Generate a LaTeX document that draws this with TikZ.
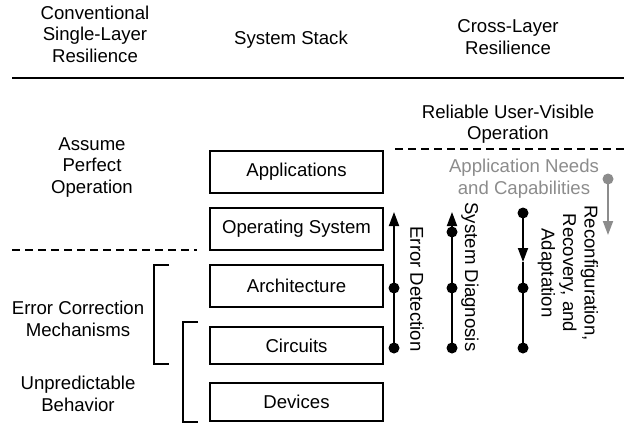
\documentclass[tikz,border=0pt]{standalone}
\usepackage{fontspec}
\setmainfont{Liberation Sans}
\usetikzlibrary{arrows.meta}
\definecolor{hintgray}{HTML}{8C8C8C}
\tikzset{
  lbl/.style={align=center, inner sep=0pt, font=\fontsize{18.6}{21.5}\selectfont},
  stackbox/.style={draw, line width=1.4pt, minimum width=173pt, inner sep=0pt,
    font=\fontsize{18.6}{21.5}\selectfont},
  sep/.style={line width=1.4pt, dash pattern=on 8pt off 5pt},
  brk/.style={line width=1.4pt},
  flow/.style={line width=1.8pt},
  tip/.style={-{Triangle[length=14pt,width=10pt]}},
  dot/.style={circle, fill, inner sep=0pt, minimum size=11pt}
}
\begin{document}
\begin{tikzpicture}[x=1pt,y=-1pt]
\useasboundingbox (0,0) rectangle (624,423);

% column headings
\node[lbl] (hconv) at (95,34) {Conventional\\Single-Layer\\Resilience};
\node[lbl] (hstack) at (291,40) {System Stack};
\node[lbl] (hcross) at (508,37) {Cross-Layer\\Resilience};
\draw[line width=1.8pt] (12,78) -- (624,78);

% system stack
\node[stackbox, minimum height=42pt] (app)  at (296.5,172)   {Applications};
\node[stackbox, minimum height=42pt] (os)   at (296.5,229)   {Operating System};
\node[stackbox, minimum height=42pt] (arch) at (296.5,286)   {Architecture};
\node[stackbox, minimum height=37pt] (circ) at (296.5,345.5) {Circuits};
\node[stackbox, minimum height=38pt] (dev)  at (296.5,402)   {Devices};

% single-layer view
\node[lbl] (assume) at (92,167.5) {Assume\\Perfect\\Operation};
\node[lbl] (ecm) at (78,319) {Error Correction\\Mechanisms};
\node[lbl] (unp) at (78,394) {Unpredictable\\Behavior};
\draw[sep] (12,250) -- (197,250);
\draw[brk] (169,265) -- (154,265) -- (154,364) -- (169,364);
\draw[brk] (198,322) -- (183,322) -- (183,422) -- (198,422);

% cross-layer view
\node[lbl] (reliable) at (508,124) {Reliable User-Visible\\Operation};
\draw[sep] (395,149) -- (624,149);
\node[lbl, text=hintgray] (needs) at (524,178.5) {Application Needs\\and Capabilities};

% error detection
\coordinate (edtop) at (394,212);
\node[dot] (ed1) at (394,288) {};
\node[dot] (ed2) at (394,348) {};
\draw[flow, tip] (ed2.center) -- (edtop);
\node[lbl, rotate=-90] (edlbl) at (417,289) {Error Detection};

% system diagnosis
\coordinate (sdtop) at (452,212);
\node[dot] (sd0) at (452,232) {};
\node[dot] (sd1) at (452,288) {};
\node[dot] (sd2) at (452,348) {};
\draw[flow, tip] (sd2.center) -- (sdtop);
\node[lbl, rotate=-90] (sdlbl) at (470,277) {System Diagnosis};

% reconfiguration, recovery and adaptation
\node[dot] (rc0) at (523,213) {};
\coordinate (rcmid) at (523,262);
\node[dot] (rc1) at (523,288) {};
\node[dot] (rc2) at (523,348) {};
\draw[flow, tip] (rc0.center) -- (rcmid);
\draw[flow] (rcmid) -- (rc2.center);
\node[lbl, rotate=-90] (rclbl) at (568,273) {Reconfiguration,\\Recovery, and\\Adaptation};

% application needs flowing down
\node[dot, fill=hintgray] (an0) at (608,179) {};
\coordinate (an1) at (608,235);
\draw[flow, tip, draw=hintgray, fill=hintgray] (an0.center) -- (an1);
\end{tikzpicture}
\end{document}
